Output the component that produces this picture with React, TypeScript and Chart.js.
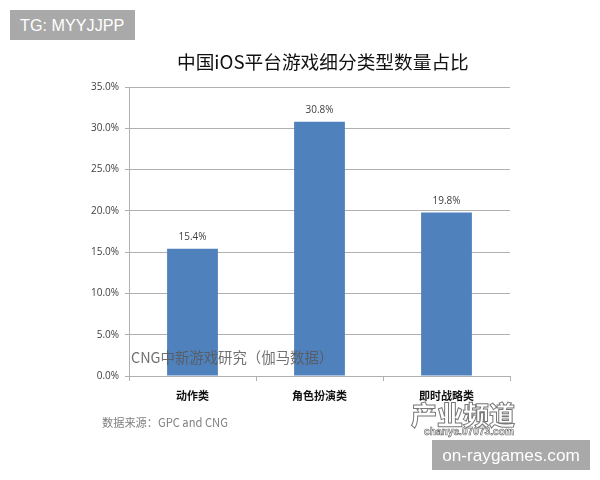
import { useEffect, useRef } from "react";
import type { CSSProperties } from "react";
import { Chart, registerables } from "chart.js";

Chart.register(...registerables);

const categories = ["动作类", "角色扮演类", "即时战略类"];
const shares = [15.4, 30.8, 19.8];
const yTicks = [0, 5, 10, 15, 20, 25, 30, 35];

const CJK = '"Noto Sans CJK SC", "Noto Sans", sans-serif';
const LATIN = '"Open Sans", "Noto Sans", sans-serif';
const AXIS_GREY = "#b0b0b0";

// value labels above the bars
const barLabels = {
  id: "barLabels",
  afterDatasetsDraw(chart: Chart) {
    const { ctx } = chart;
    const meta = chart.getDatasetMeta(0);
    ctx.save();
    ctx.font = `10px ${LATIN}`;
    ctx.fillStyle = "#404040";
    ctx.textAlign = "center";
    meta.data.forEach((bar, i) => {
      ctx.fillText(shares[i].toFixed(1) + "%", bar.x, bar.y - 9);
    });
    ctx.restore();
  },
};

const overlay = (style: CSSProperties): CSSProperties => ({
  position: "absolute",
  whiteSpace: "nowrap",
  fontFamily: CJK,
  ...style,
});

export default function App() {
  const canvasRef = useRef<HTMLCanvasElement | null>(null);

  useEffect(() => {
    if (!canvasRef.current) return;
    document.body.style.margin = "0";

    const chart = new Chart(canvasRef.current, {
      type: "bar",
      data: {
        labels: categories,
        datasets: [
          {
            data: shares,
            backgroundColor: "#4f81bd",
            categoryPercentage: 1,
            barPercentage: 0.4,
          },
        ],
      },
      options: {
        animation: false,
        responsive: false,
        layout: { padding: { left: 0, top: 87, right: 90, bottom: 0 } },
        plugins: { legend: { display: false }, tooltip: { enabled: false } },
        scales: {
          x: {
            grid: { drawOnChartArea: false, color: AXIS_GREY, tickLength: 5 },
            border: { color: AXIS_GREY },
            ticks: {
              color: "#111111",
              padding: 8,
              font: { family: CJK, size: 11, weight: "bold" },
            },
            afterFit: (scale) => {
              scale.height = 104;
            },
          },
          y: {
            min: 0,
            max: 35,
            afterBuildTicks: (scale) => {
              scale.ticks = yTicks.map((value) => ({ value }));
            },
            grid: { color: AXIS_GREY, tickLength: 4 },
            border: { color: AXIS_GREY },
            ticks: {
              color: "#404040",
              padding: 6,
              font: { family: LATIN, size: 10 },
              callback: (v) => Number(v).toFixed(1) + "%",
            },
            afterFit: (scale) => {
              scale.width = 129;
            },
          },
        },
      },
      plugins: [barLabels],
    });

    return () => {
      chart.destroy();
    };
  }, []);

  return (
    <div style={{ position: "relative", width: 600, height: 480, overflow: "hidden", background: "#fff" }}>
      <canvas ref={canvasRef} width={600} height={480} style={{ display: "block" }} />

      <div style={overlay({ left: 10, top: 10, width: 125, height: 30, lineHeight: "30px", background: "#a9a9a9", color: "#fff", fontFamily: '"Liberation Sans", sans-serif', fontSize: 16.2, textIndent: 10 })}>
        TG: MYYJJPP
      </div>
      <div style={overlay({ left: 177, top: 48, fontSize: 18.7, lineHeight: "26px", color: "#111" })}>
        中国iOS平台游戏细分类型数量占比
      </div>
      <div style={overlay({ left: 131, top: 347, fontSize: 14.4, lineHeight: "20px", color: "#595959", opacity: 0.85 })}>
        CNG中新游戏研究（伽马数据）
      </div>
      <div style={overlay({ left: 102, top: 414, fontSize: 11.2, lineHeight: "16px", color: "#7f7f7f" })}>
        数据来源：GPC and CNG
      </div>
      <div style={overlay({ left: 411, top: 399, fontSize: 26, lineHeight: "30px", fontWeight: 900, color: "#fff", WebkitTextStroke: "1px #777" })}>
        产业频道
      </div>
      <div style={overlay({ left: 424, top: 426, fontSize: 10.2, lineHeight: "12px", fontWeight: 700, color: "#fff", fontFamily: '"Liberation Sans", sans-serif', WebkitTextStroke: "0.6px #666" })}>
        chanye.07073.com
      </div>
      <div style={overlay({ left: 432, top: 440, width: 158, height: 30, lineHeight: "30px", background: "#a9a9a9", color: "#fff", fontFamily: '"Liberation Sans", sans-serif', fontSize: 17.2, textAlign: "center" })}>
        on-raygames.com
      </div>
    </div>
  );
}
